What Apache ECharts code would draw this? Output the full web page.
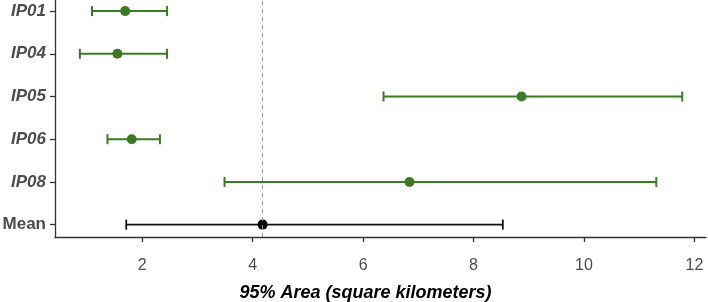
<!DOCTYPE html>
<html>
<head>
<meta charset="utf-8">
<script src="https://cdn.jsdelivr.net/npm/echarts@6/dist/echarts.min.js"></script>
<style>html,body{margin:0;padding:0;background:#fff}#c{width:708px;height:302px}</style>
</head>
<body>
<div id="c"></div>
<script>
// Categories from top to bottom
var categories = ['IP01', 'IP04', 'IP05', 'IP06', 'IP08', 'Mean'];
var estimates = [1.69, 1.55, 8.87, 1.81, 6.84, 4.18];
var lowerCI   = [1.09, 0.87, 6.37, 1.37, 3.49, 1.71];
var upperCI   = [2.45, 2.45, 11.78, 2.32, 11.31, 8.53];
var meanLine  = 4.17;
var xTicks = [2, 4, 6, 8, 10, 12];

var GREEN = '#3d7a25';
var n = categories.length;
function yPos(i) { return n - 1 - i; }

var barData = categories.map(function (c, i) {
  return [lowerCI[i], upperCI[i], yPos(i), i];
});
var ptGreen = [], ptMean = [];
categories.forEach(function (c, i) {
  var p = [estimates[i], yPos(i)];
  if (c === 'Mean') ptMean.push(p); else ptGreen.push(p);
});

var chart = echarts.init(document.getElementById('c'));
chart.setOption({
  animation: false,
  grid: { left: 55, right: 2, top: 0, bottom: 65, containLabel: false, outerBoundsMode: 'none' },
  xAxis: {
    type: 'value', min: 0.42, max: 12.21,
    axisLine: { show: true, onZero: false, lineStyle: { color: '#333', width: 1.3 } },
    axisTick: { show: true, length: 5, lineStyle: { color: '#333', width: 1.3 }, customValues: xTicks },
    axisLabel: { customValues: xTicks, color: '#4d4d4d', fontSize: 16, margin: 21, fontFamily: 'Liberation Sans' },
    splitLine: { show: false },
    name: '95% Area (square kilometers)',
    nameLocation: 'middle', nameGap: 47,
    nameTextStyle: { fontSize: 18, fontWeight: 'bold', fontStyle: 'italic', color: '#000', fontFamily: 'Liberation Sans', padding: [0, 30, 0, 0] }
  },
  yAxis: {
    type: 'value', min: -0.29, max: 5.26,
    axisLine: { show: true, onZero: false, lineStyle: { color: '#333', width: 1.3 } },
    axisTick: { show: true, length: 5, lineStyle: { color: '#333', width: 1.3 }, customValues: [0, 1, 2, 3, 4, 5] },
    axisLabel: {
      customValues: [0, 1, 2, 3, 4, 5],
      margin: 9,
      color: '#4d4d4d', fontSize: 17, fontWeight: 'bold', fontStyle: 'italic', fontFamily: 'Liberation Sans',
      formatter: function (v) {
        var idx = n - 1 - Math.round(v);
        var name = categories[idx];
        return name === 'Mean' ? '{m|Mean}' : name;
      },
      rich: { m: { fontStyle: 'normal', fontWeight: 'bold', fontSize: 17, color: '#4d4d4d', fontFamily: 'Liberation Sans' } }
    },
    splitLine: { show: false }
  },
  series: [
    {
      type: 'line', data: [], silent: true,
      markLine: {
        symbol: 'none', silent: true, label: { show: false },
        lineStyle: { color: '#9a9a9a', type: [4, 4], width: 1 },
        data: [{ xAxis: meanLine }]
      }
    },
    {
      type: 'custom',
      data: barData,
      renderItem: function (params, api) {
        var lo = api.coord([api.value(0), api.value(2)]);
        var hi = api.coord([api.value(1), api.value(2)]);
        var idx = api.value(3);
        var isMean = categories[idx] === 'Mean';
        var color = isMean ? '#111' : GREEN;
        var w = isMean ? 1.8 : 2;
        var h = 5;
        return {
          type: 'group',
          children: [
            { type: 'line', shape: { x1: lo[0], y1: lo[1], x2: hi[0], y2: hi[1] }, style: { stroke: color, lineWidth: w } },
            { type: 'line', shape: { x1: lo[0], y1: lo[1] - h, x2: lo[0], y2: lo[1] + h }, style: { stroke: color, lineWidth: w } },
            { type: 'line', shape: { x1: hi[0], y1: hi[1] - h, x2: hi[0], y2: hi[1] + h }, style: { stroke: color, lineWidth: w } }
          ]
        };
      },
      z: 2
    },
    {
      type: 'scatter', data: ptGreen, symbol: 'circle', symbolSize: 10,
      itemStyle: { color: GREEN, opacity: 1 }, z: 3
    },
    {
      type: 'scatter', data: ptMean, symbol: 'circle', symbolSize: 10,
      itemStyle: { color: '#000', opacity: 1 }, z: 3
    }
  ]
});
</script>
</body>
</html>
